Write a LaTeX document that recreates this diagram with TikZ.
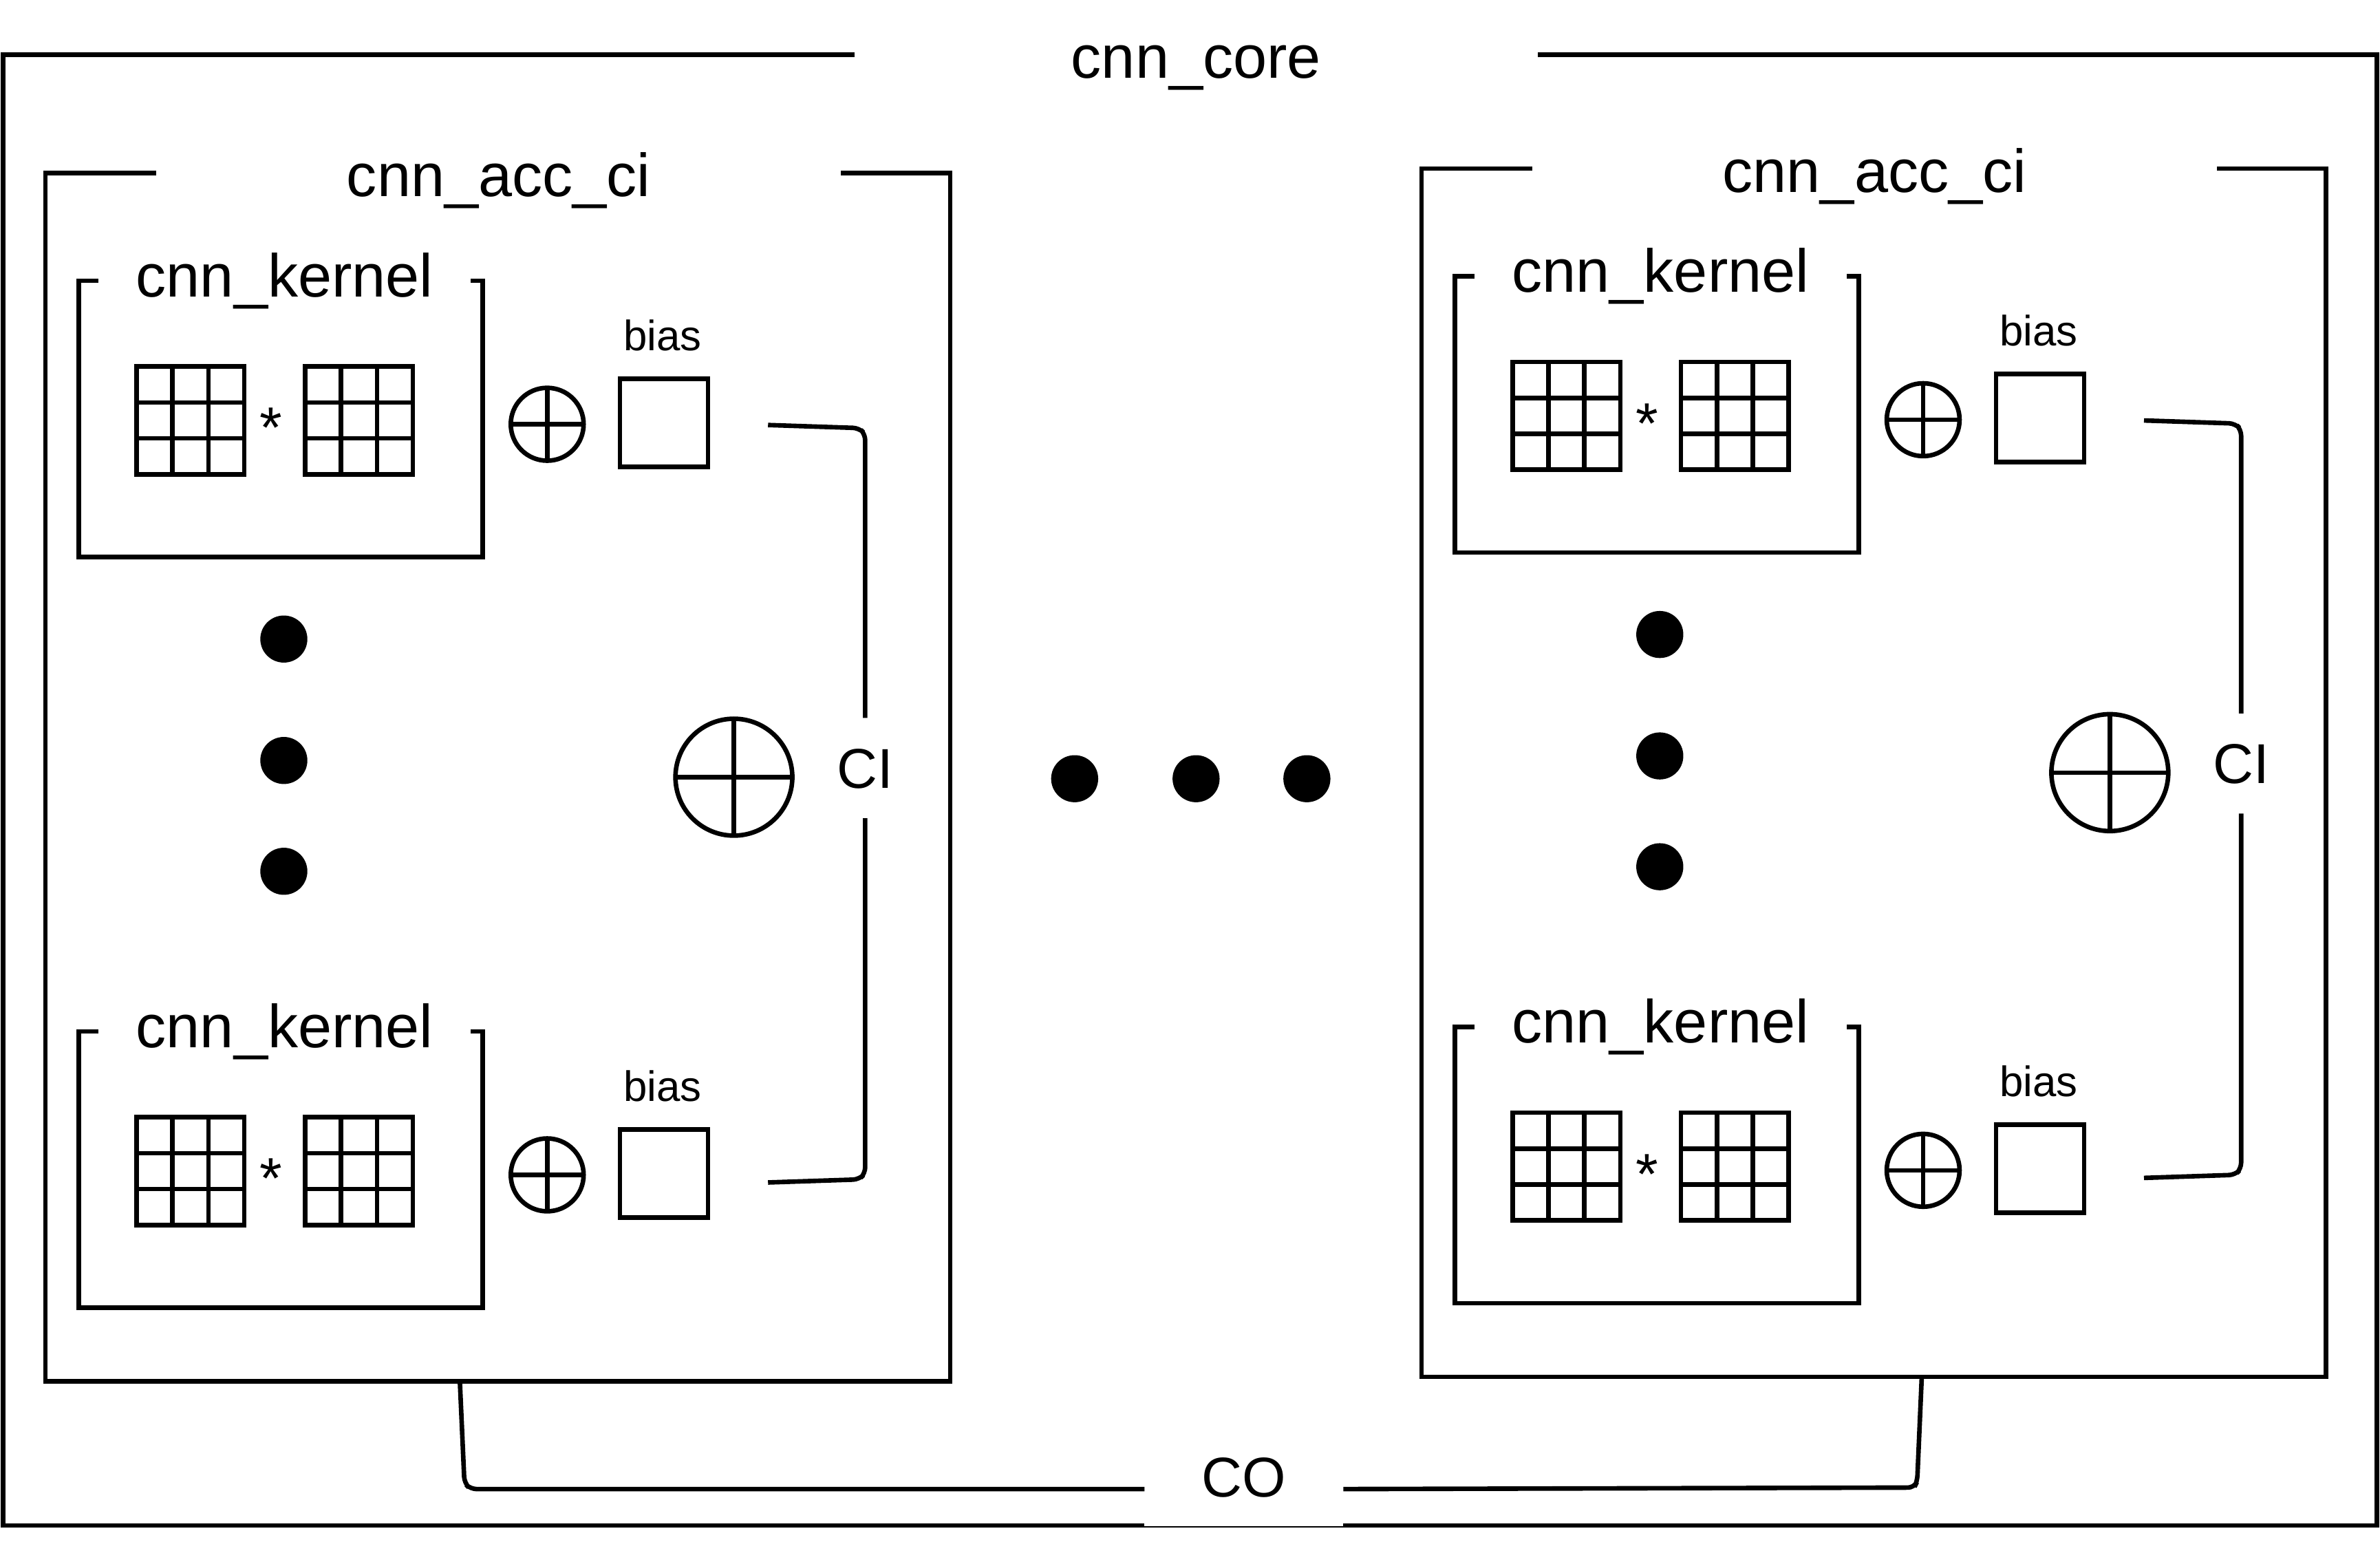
\documentclass[tikz,border=0pt]{standalone}
\usepackage{fontspec}
\setmainfont{Liberation Sans}
\usetikzlibrary{calc}
\begin{document}
\begin{tikzpicture}[x=1pt,y=-1pt,
  lw/.style={line width=3pt},
  boxn/.style={draw, lw, rectangle, inner sep=0pt, outer sep=0pt},
  boxtitle/.style={fill=white, inner sep=0pt, outer sep=0pt, minimum height=66pt, text height=26.5pt, text depth=0pt, font=\fontsize{40pt}{48pt}\selectfont},
  smalltext/.style={inner sep=0pt, anchor=base, font=\fontsize{28pt}{34pt}\selectfont},
  startext/.style={inner sep=0pt, anchor=base, font=\fontsize{38pt}{42pt}\selectfont},
  cilabel/.style={inner sep=0pt, outer sep=0pt, minimum height=66pt, text height=26.5pt, text depth=0pt, font=\fontsize{37pt}{44pt}\selectfont},
  conn/.style={lw, line cap=butt},
  dotn/.style={circle, fill=black, inner sep=0pt, minimum size=31pt},
  gridbox/.style={boxn, minimum width=71pt, minimum height=71pt, path picture={
    \draw[lw] ($(path picture bounding box.north west)!1/3!(path picture bounding box.north east)$) -- ($(path picture bounding box.south west)!1/3!(path picture bounding box.south east)$);
    \draw[lw] ($(path picture bounding box.north west)!2/3!(path picture bounding box.north east)$) -- ($(path picture bounding box.south west)!2/3!(path picture bounding box.south east)$);
    \draw[lw] ($(path picture bounding box.north west)!1/3!(path picture bounding box.south west)$) -- ($(path picture bounding box.north east)!1/3!(path picture bounding box.south east)$);
    \draw[lw] ($(path picture bounding box.north west)!2/3!(path picture bounding box.south west)$) -- ($(path picture bounding box.north east)!2/3!(path picture bounding box.south east)$);
  }},
  oplus/.style={circle, draw, lw, inner sep=0pt, outer sep=0pt, minimum size=#1, path picture={
    \draw[lw] (path picture bounding box.north) -- (path picture bounding box.south);
    \draw[lw] (path picture bounding box.west) -- (path picture bounding box.east);
  }}
]
\useasboundingbox (0,0) rectangle (1568,1023);

% outer cnn_core box
\node[boxn, minimum width=1564pt, minimum height=969pt] (core) at (784,520.5) {};
\node[boxtitle, minimum width=450pt] (corelbl) at (788,38) {cnn\_core};

\foreach \p/\dx/\dy in {L/0/0, R/906.5/-3}{
\begin{scope}[shift={(\dx,\dy)}]
  \node[boxn, minimum width=596pt, minimum height=796pt] (\p-acc) at (328,512) {};
  \node[boxtitle, minimum width=451pt] (\p-acclbl) at (328.5,116.25) {cnn\_acc\_ci};
  \foreach \k/\ky in {1/0, 2/494.5}{
  \begin{scope}[shift={(0,\ky)}]
    \node[boxn, minimum width=266pt, minimum height=182pt] (\p-k\k) at (185,276) {};
    \node[boxtitle, minimum width=245pt] (\p-k\k-lbl) at (187.5,182.25) {cnn\_kernel};
    \node[gridbox] (\p-k\k-ga) at (125.5,277) {};
    \node[gridbox] (\p-k\k-gb) at (236.5,277) {};
    \node[startext] (\p-k\k-star) at (178.6,295) {*};
    \node[oplus=48pt] (\p-k\k-add) at (360.5,279.5) {};
    \node[boxn, minimum width=58pt, minimum height=58pt] (\p-k\k-bias) at (437.5,278.5) {};
    \node[smalltext] (\p-k\k-biaslbl) at (436.5,231) {bias};
  \end{scope}
  }
  \node[dotn] (\p-d1) at (187,421) {};
  \node[dotn] (\p-d2) at (187,501) {};
  \node[dotn] (\p-d3) at (187,574) {};
  \node[oplus=77pt] (\p-sum) at (483.5,512) {};
  \node[cilabel] (\p-ci) at (570,506) {CI};
  \coordinate (\p-bt) at (506,280);
  \coordinate (\p-bb) at (506,779);
  \draw[conn, rounded corners=4pt] (\p-bt) -- (566,282) -- (570,286) -- (\p-ci.north);
  \draw[conn, rounded corners=4pt] (\p-ci.south) -- (570,773) -- (566,777) -- (\p-bb);
\end{scope}
}

% middle dots
\node[dotn] (m1) at (708,513) {};
\node[dotn] (m2) at (788,513) {};
\node[dotn] (m3) at (861,513) {};

% CO connector
\coordinate (coL) at ($(L-acc.south west)!0.458!(L-acc.south east)$);
\coordinate (coR) at ($(R-acc.south west)!0.553!(R-acc.south east)$);
\node[fill=white, inner sep=0pt, outer sep=0pt, minimum width=131pt, minimum height=48.6pt, text height=26.5pt, text depth=16.5pt, font=\fontsize{37pt}{44pt}\selectfont] (co) at (819.5,981) {CO};
\draw[conn, rounded corners=4pt] (coL) -- ($(coL)+(3,67)$) -- ($(coL)+(7,71)$) -- (co.west);
\draw[conn, rounded corners=4pt] (co.east) -- ($(coR)+(-5,73)$) -- ($(coR)+(-3,69)$) -- (coR);
\end{tikzpicture}
\end{document}
